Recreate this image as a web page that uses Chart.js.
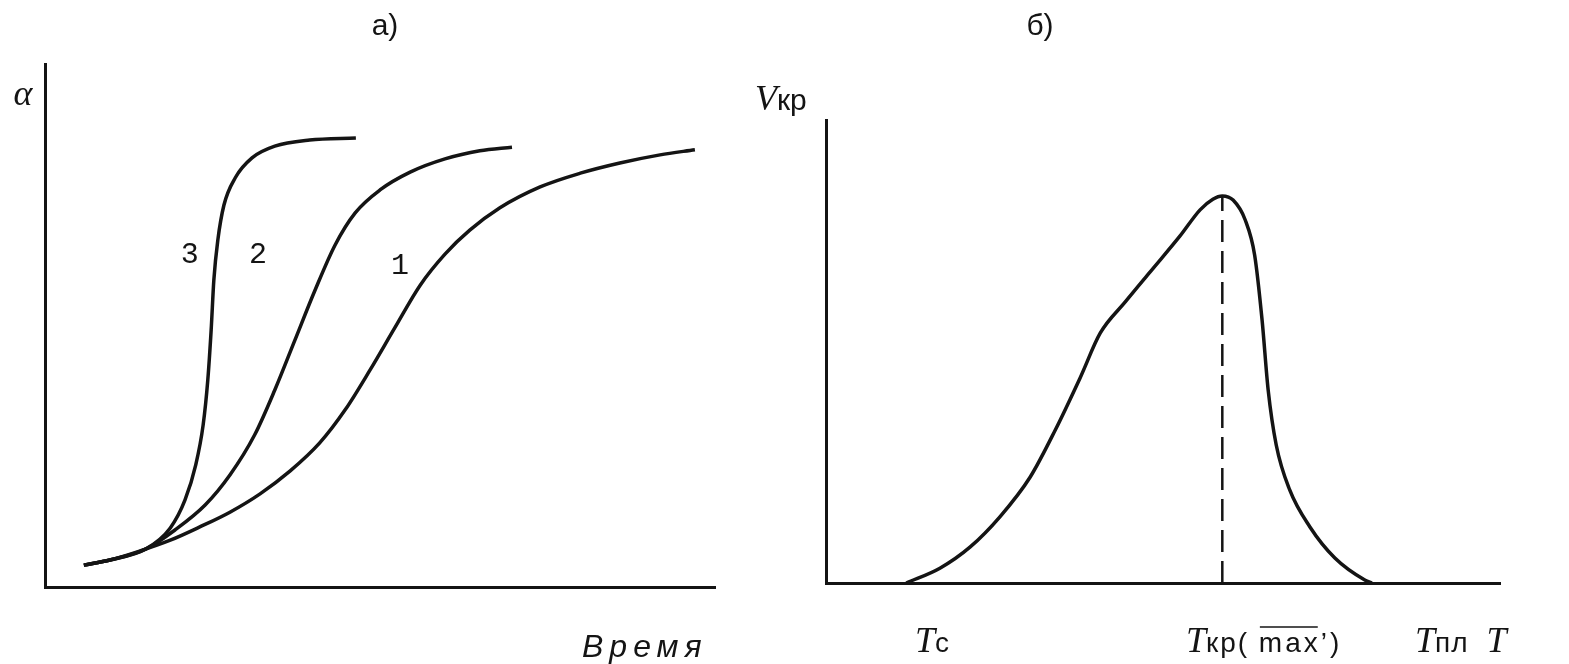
<!DOCTYPE html>
<html>
<head>
<meta charset="utf-8">
<script src="https://cdn.jsdelivr.net/npm/chart.js@4.4.0/dist/chart.umd.min.js"></script>
<style>
  html, body { margin: 0; padding: 0; background: #fff; }
  #wrap { position: relative; width: 1569px; height: 664px; overflow: hidden; }
  canvas { position: absolute; top: 0; }
</style>
</head>
<body>
<div id="wrap">
  <canvas id="kinetics" width="730" height="664" style="left:0"></canvas>
  <canvas id="rate" width="839" height="664" style="left:730px"></canvas>
</div>
<script>
// а) степень кристалличности α от времени для трёх температур (кривые 1, 2, 3)
const time1  = [5.8, 9.7, 14.2, 18.7, 23.1, 27.6, 32.1, 36.6, 41.0, 44.8, 48.5, 52.2, 56.0, 59.7, 63.4, 67.9, 73.9, 79.9, 85.8, 91.8, 97.0];
const alpha1 = [4.3, 5.3, 7.1, 9.2, 11.8, 14.7, 18.3, 22.8, 28.3, 34.8, 42.6, 50.9, 59.3, 65.4, 70.1, 74.5, 78.6, 81.3, 83.3, 84.9, 85.9];

const time2  = [5.8, 9.7, 15.1, 19.4, 23.9, 27.6, 31.3, 34.3, 37.3, 40.3, 43.3, 46.3, 50.0, 54.5, 59.7, 64.9, 69.7];
const alpha2 = [4.3, 5.3, 7.5, 11.2, 16.1, 22.0, 29.9, 38.7, 48.5, 58.3, 67.2, 73.5, 78.0, 81.5, 84.1, 85.7, 86.4];

const time3  = [5.8, 9.7, 15.1, 18.7, 20.9, 22.5, 23.6, 24.3, 24.8, 25.2, 25.8, 26.7, 28.4, 30.9, 34.3, 39.5, 46.4];
const alpha3 = [4.3, 5.3, 7.5, 11.6, 17.1, 24.0, 31.8, 40.7, 50.5, 60.3, 68.2, 75.0, 80.4, 84.3, 86.6, 87.8, 88.2];

const curveNames = ['1', '2', '3'];
const curveNameAt = [[53.0, 63.1], [31.8, 65.2], [21.6, 65.2]];

// б) скорость кристаллизации Vкр от температуры T
const temp   = [11.9, 16.9, 21.4, 25.8, 30.3, 34.0, 37.7, 40.7, 44.4, 48.1, 52.5, 55.5, 57.4, 58.8, 60.4, 62.2, 63.6, 64.7, 65.6, 66.8, 68.8, 71.8, 75.5, 80.0, 81.0];
const vCryst = [0.0, 3.2, 7.8, 14.3, 22.9, 33.0, 44.3, 54.0, 60.7, 67.2, 74.9, 80.6, 82.9, 83.6, 82.7, 78.4, 70.8, 56.8, 41.7, 29.8, 20.1, 12.1, 5.4, 0.6, 0.0];
const tPeak = 58.8, vPeak = 83.6;

// подписи на оси T: значение, с которого начинается подпись
const tempLabelAt = [13.2, 53.4, 87.4, 98.0];

const INK = '#141414';
const serifIt = 'italic 36px "Liberation Serif", "DejaVu Serif", serif';
const sans = '"Liberation Sans", "DejaVu Sans", sans-serif';

const zip = (xs, ys) => xs.map((x, i) => ({ x, y: ys[i] }));

// рисует строку из нескольких кусков текста разными шрифтами
function drawRuns(ctx, x, y, runs) {
  ctx.save();
  ctx.textBaseline = 'alphabetic';
  ctx.textAlign = 'left';
  ctx.fillStyle = INK;
  for (const r of runs) {
    ctx.font = r.font;
    ctx.letterSpacing = r.spacing || '0px';
    const w = ctx.measureText(r.text).width;
    ctx.fillText(r.text, x, y);
    if (r.overline) {
      ctx.strokeStyle = INK;
      ctx.lineWidth = 1.5;
      ctx.beginPath();
      ctx.moveTo(x + 1, y - 25);
      ctx.lineTo(x + w - 3, y - 25);
      ctx.stroke();
    }
    x += w;
  }
  ctx.restore();
}

const axisStyle = (min, max) => ({
  type: 'linear', min, max,
  ticks: { display: false },
  grid: { display: false, drawTicks: false },
  border: { display: true, color: INK, width: 3 }
});

const lineSet = (data, extra) => Object.assign({
  data, borderColor: INK, borderWidth: 3.5, pointRadius: 0,
  cubicInterpolationMode: 'monotone', fill: false
}, extra || {});

// --- а) ---
const kineticsText = {
  id: 'kineticsText',
  afterDraw(chart) {
    const { ctx, chartArea: a, scales: { x, y } } = chart;
    ctx.save();
    ctx.fillStyle = INK;
    ctx.textAlign = 'center';
    ctx.textBaseline = 'middle';
    ctx.font = '30px ' + sans;
    ctx.fillText('а)', 385, 27);
    ctx.font = 'italic 36px "Liberation Serif", "DejaVu Serif", serif';
    ctx.fillText('α', a.left - 22, 96);
    ctx.font = '30px "Liberation Mono", "DejaVu Sans Mono", monospace';
    curveNames.forEach((n, i) => {
      ctx.fillText(n, x.getPixelForValue(curveNameAt[i][0]), y.getPixelForValue(curveNameAt[i][1]));
    });
    ctx.font = 'italic 32px ' + sans;
    ctx.textAlign = 'left';
    ctx.letterSpacing = '6px';
    ctx.fillText('Время', 582, 648);
    ctx.restore();
  }
};

new Chart(document.getElementById('kinetics'), {
  type: 'line',
  data: {
    datasets: [
      lineSet(zip(time1, alpha1)),
      lineSet(zip(time2, alpha2)),
      lineSet(zip(time3, alpha3))
    ]
  },
  options: {
    responsive: false, animation: false, devicePixelRatio: 1,
    layout: { padding: { left: 45, right: 15, top: 64, bottom: 77 } },
    plugins: { legend: { display: false }, tooltip: { enabled: false } },
    scales: { x: axisStyle(0, 100), y: axisStyle(0, 102.75) }
  },
  plugins: [kineticsText]
});

// --- б) ---
const rateText = {
  id: 'rateText',
  afterDraw(chart) {
    const { ctx, chartArea: a, scales: { x } } = chart;
    ctx.save();
    ctx.fillStyle = INK;
    ctx.textAlign = 'center';
    ctx.textBaseline = 'middle';
    ctx.font = '30px ' + sans;
    ctx.fillText('б)', 310, 27);
    ctx.restore();

    const sub = '28px ' + sans;
    drawRuns(ctx, a.left - 71, a.top - 10, [
      { text: 'V', font: serifIt }, { text: 'кр', font: '30px ' + sans }
    ]);
    const base = 652;
    const labels = [
      [{ text: 'T', font: serifIt }, { text: 'c', font: sub }],
      [{ text: 'T', font: serifIt }, { text: 'кр( ', font: sub, spacing: '2px' },
       { text: 'max', font: sub, spacing: '3px', overline: true }, { text: '\u2019)', font: sub, spacing: '3px' }],
      [{ text: 'T', font: serifIt }, { text: 'пл', font: sub, spacing: '1px' }],
      [{ text: 'T', font: serifIt }]
    ];
    labels.forEach((runs, i) => drawRuns(ctx, x.getPixelForValue(tempLabelAt[i]), base, runs));
  }
};

new Chart(document.getElementById('rate'), {
  type: 'line',
  data: {
    datasets: [
      lineSet(zip(temp, vCryst)),
      lineSet([{ x: tPeak, y: 0 }, { x: tPeak, y: vPeak }], {
        borderWidth: 2.5, borderDash: [22, 9], cubicInterpolationMode: 'default', tension: 0
      })
    ]
  },
  options: {
    responsive: false, animation: false, devicePixelRatio: 1,
    layout: { padding: { left: 96, right: 69, top: 120, bottom: 81 } },
    plugins: { legend: { display: false }, tooltip: { enabled: false } },
    scales: { x: axisStyle(0, 100), y: axisStyle(0, 100) }
  },
  plugins: [rateText]
});
</script>
</body>
</html>
